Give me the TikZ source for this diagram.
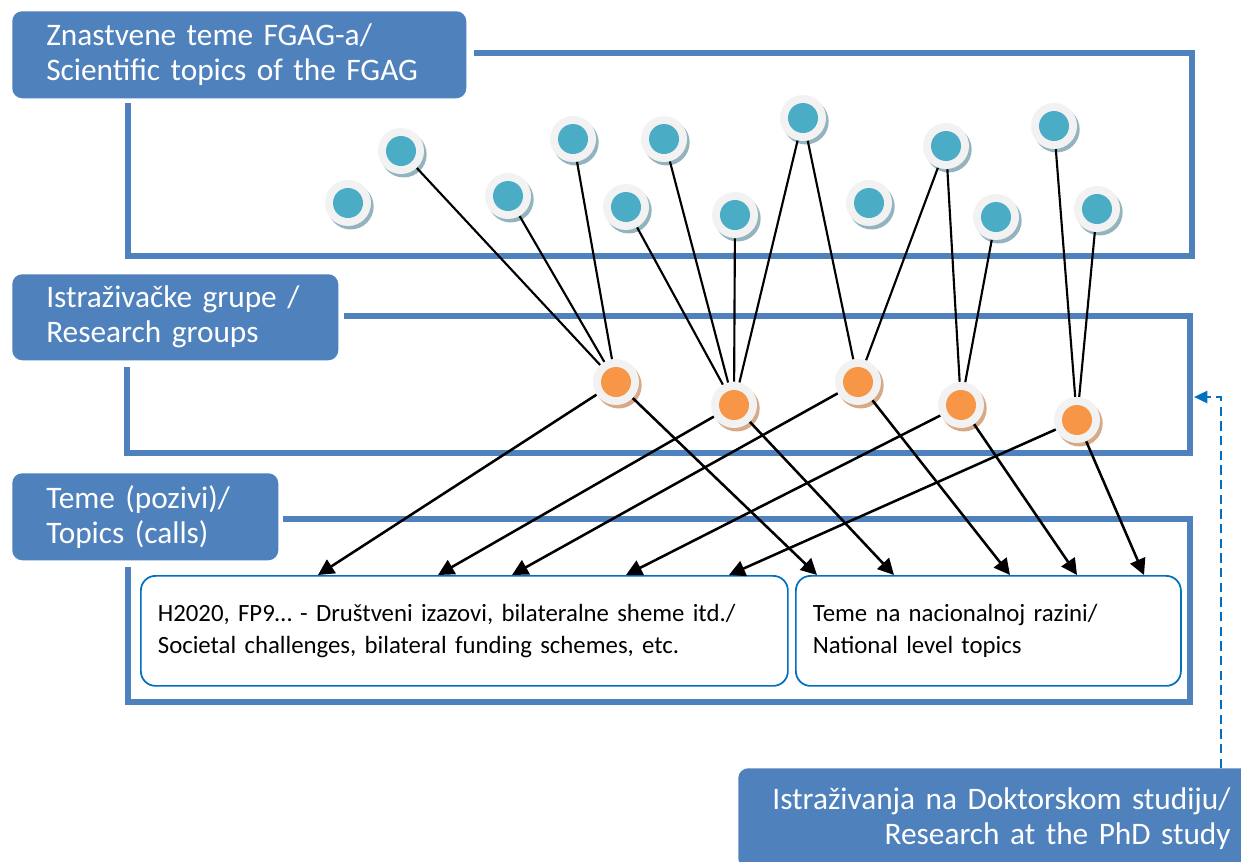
\documentclass[tikz,border=0pt]{standalone}
\usepackage{fontspec}
\setmainfont{Carlito}
\usetikzlibrary{arrows.meta,shadows,positioning}
\definecolor{hdr}{HTML}{4F81BD}
\definecolor{ibox}{HTML}{0070C0}
\definecolor{ring}{HTML}{F2F2F2}
\definecolor{bcore}{HTML}{4BACC6}
\definecolor{bshadow}{HTML}{93B3BE}
\definecolor{ocore}{HTML}{F79646}
\definecolor{oshadow}{HTML}{D6A987}
\tikzset{
  hdrbox/.style={rounded corners=7.5pt, fill=hdr, text=white, inner ysep=0pt,
    font=\fontsize{23.5pt}{26.3pt}\selectfont, anchor=north west},
  framepath/.style={draw=hdr, line width=3.8pt},
  topicbox/.style={draw=ibox, line width=1.3pt, rounded corners=11pt, fill=white,
    anchor=north west, align=left, inner xsep=12.75pt,
    font=\fontsize{18.6pt}{24pt}\selectfont},
  bdot/.style={circle, minimum size=34.5pt, inner sep=0pt, fill=ring,
    drop shadow={shadow xshift=2pt, shadow yshift=-2.6pt, fill=bshadow, opacity=1},
    path picture={\fill[bcore] (path picture bounding box.center) circle (11.25pt);}},
  odot/.style={circle, minimum size=34.5pt, inner sep=0pt, fill=ring,
    drop shadow={shadow xshift=2pt, shadow yshift=-2.6pt, fill=oshadow, opacity=1},
    path picture={\fill[ocore] (path picture bounding box.center) circle (11.25pt);}},
  link/.style={line width=1.6pt, black},
  feed/.style={line width=1.9pt, black, -{Triangle[length=12pt, width=12pt]}},
  back/.style={draw=ibox, line width=1.9pt, dash pattern=on 7pt off 4pt,
    -{Triangle[length=10pt, width=9pt]}}
}
\begin{document}
\begin{tikzpicture}[x=0.75pt, y=-0.75pt]
\clip (0,0) rectangle (1241,861);
\fill[white] (0,0) rectangle (1241,861);

% frames
\draw[framepath] (474,53) -- (1192,53) -- (1192,256) -- (128,256) -- (128,103);
\draw[framepath] (344,316) -- (1190,316) -- (1190,453) -- (127,453) -- (127,367);
\draw[framepath] (283,519) -- (1190,519) -- (1190,702) -- (128,702) -- (128,567);

% header boxes
\node[hdrbox, minimum width=340.5pt, minimum height=65.25pt, text width=289.5pt,
  inner xsep=25.5pt, align=left] (lab1) at (12,11)
  {Znastvene teme FGAG-a/\\Scientific topics of the FGAG};
\node[hdrbox, minimum width=244.5pt, minimum height=64.5pt, text width=193.5pt,
  inner xsep=25.5pt, align=left] (lab2) at (12,274)
  {Istraživačke grupe /\\Research groups};
\node[hdrbox, minimum width=199.5pt, minimum height=65.25pt, text width=148.5pt,
  inner xsep=25.5pt, align=left] (lab3) at (12,473)
  {Teme (pozivi)/\\Topics (calls)};
\node[hdrbox, minimum width=391.5pt, minimum height=75pt, text width=347pt,
  inner xsep=22pt, align=right] (lab4) at (738,768)
  {Istraživanja na Doktorskom studiju/\\Research at the PhD study};

% topic boxes
\node[topicbox, minimum width=485.25pt, minimum height=82.5pt, text width=459.75pt] (boxA) at (140,575)
  {H2020, FP9… - Društveni izazovi, bilateralne sheme itd./\\Societal challenges, bilateral funding schemes, etc.};
\node[topicbox, minimum width=288.75pt, minimum height=82.5pt, text width=263.25pt] (boxB) at (795,575)
  {Teme na nacionalnoj razini/\\National level topics};

% blue dots
\node[bdot] (c1) at (348,203) {};
\node[bdot] (c2) at (401,151) {};
\node[bdot] (c3) at (508,196) {};
\node[bdot] (c4) at (573,139) {};
\node[bdot] (c5) at (626,207) {};
\node[bdot] (c6) at (664,139) {};
\node[bdot] (c7) at (735,215) {};
\node[bdot] (c8) at (803,118) {};
\node[bdot] (c9) at (869,203) {};
\node[bdot] (c10) at (946,146) {};
\node[bdot] (c11) at (996,217) {};
\node[bdot] (c12) at (1054,126) {};
\node[bdot] (c13) at (1097,209) {};

% orange dots
\node[odot] (o1) at (616,382) {};
\node[odot] (o2) at (734,405) {};
\node[odot] (o3) at (858,382) {};
\node[odot] (o4) at (961,405) {};
\node[odot] (o5) at (1077,420) {};

% links
\draw[link] (c2) -- (o1);
\draw[link] (c3) -- (o1);
\draw[link] (c4) -- (o1);
\draw[link] (c5) -- (o2);
\draw[link] (c6) -- (o2);
\draw[link] (c7) -- (o2);
\draw[link] (c8) -- (o2);
\draw[link] (c8) -- (o3);
\draw[link] (c10) -- (o3);
\draw[link] (c10) -- (o4);
\draw[link] (c11) -- (o4);
\draw[link] (c12) -- (o5);
\draw[link] (c13) -- (o5);

% arrow targets
\coordinate (a1) at (318,575);
\coordinate (a2) at (438,575);
\coordinate (a3) at (512,575);
\coordinate (a4) at (626,575);
\coordinate (a5) at (729,575);
\coordinate (b1) at (817,575);
\coordinate (b2) at (894,575);
\coordinate (b3) at (1010,575);
\coordinate (b4) at (1077,575);
\coordinate (b5) at (1144,575);

\draw[feed] (o1) -- (a1);
\draw[feed] (o1) -- (b1);
\draw[feed] (o2) -- (a2);
\draw[feed] (o2) -- (b2);
\draw[feed] (o3) -- (a3);
\draw[feed] (o3) -- (b3);
\draw[feed] (o4) -- (a4);
\draw[feed] (o4) -- (b4);
\draw[feed] (o5) -- (a5);
\draw[feed] (o5) -- (b5);

% dashed feedback
\coordinate (dstart) at (1221,768);
\coordinate (dtip) at (1194,397);
\draw[back] (dstart) |- (dtip);
\end{tikzpicture}
\end{document}
